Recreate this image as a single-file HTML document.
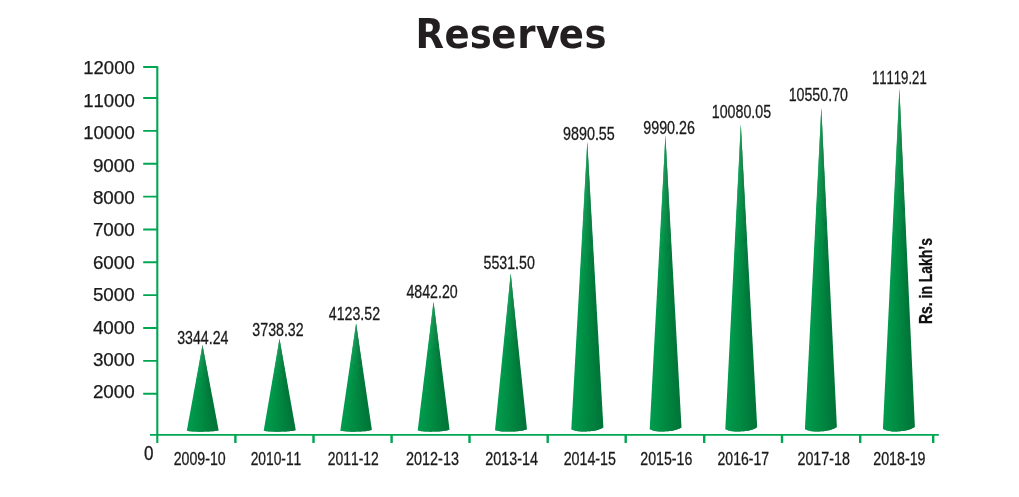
<!DOCTYPE html>
<html lang="en"><head><meta charset="utf-8"><title>Reserves</title>
<style>
html,body{margin:0;padding:0;background:#fff;}
body{width:1019px;height:497px;overflow:hidden;}
svg{display:block;}
text{font-family:"Liberation Sans",sans-serif;fill:#1a1a1a;font-kerning:none;}
.title{font-family:"DejaVu Sans","Liberation Sans",sans-serif;font-weight:bold;fill:#231f20;}
.ylab{font-size:17.9px;text-anchor:end;stroke:#1a1a1a;stroke-width:0.25px;}
.nar{font-size:19px;text-anchor:middle;stroke:#1a1a1a;stroke-width:0.3px;}
.xl{font-size:18.4px;text-anchor:middle;stroke:#1a1a1a;stroke-width:0.3px;}
.unit{font-size:18px;font-weight:bold;fill:#111;stroke:#111;stroke-width:0.3px;}
</style></head><body>
<svg width="1019" height="497" viewBox="0 0 1019 497">
<rect width="1019" height="497" fill="#fff"/>
<text class="title" transform="translate(415.45 48) scale(0.9150 1)" font-size="40.5" dx="0.00 0.60 0.00 -0.60 0.98 0.22 -1.09 0.71">Reserves</text>
<g fill="none" stroke="#00a651">
<path d="M157.3 66.3V442.9" stroke-width="2.1"/>
<path d="M150 434.85H938.8" stroke-width="1.6"/>
<path d="M143.2 67.05H157.3M143.2 98.00H157.3M143.2 130.86H157.3M143.2 163.72H157.3M143.2 196.58H157.3M143.2 229.44H157.3M143.2 262.30H157.3M143.2 295.16H157.3M143.2 328.02H157.3M143.2 360.88H157.3M143.2 393.74H157.3" stroke-width="1.9"/>
<path d="M235.4 434.5V442.9M313.5 434.5V442.9M391.6 434.5V442.9M469.5 434.5V442.9M547.7 434.5V442.9M625.7 434.5V442.9M704.2 434.5V442.9M782.0 434.5V442.9M860.2 434.5V442.9M933.2 434.5V442.9" stroke-width="2.4"/>
</g>
<text class="ylab" x="134.8" y="74.3" textLength="51.6" lengthAdjust="spacingAndGlyphs">12000</text>
<text class="ylab" x="134.8" y="106.6" textLength="51.6" lengthAdjust="spacingAndGlyphs">11000</text>
<text class="ylab" x="134.8" y="139.0" textLength="51.6" lengthAdjust="spacingAndGlyphs">10000</text>
<text class="ylab" x="134.8" y="171.9" textLength="41.9" lengthAdjust="spacingAndGlyphs">9000</text>
<text class="ylab" x="134.8" y="203.7" textLength="41.9" lengthAdjust="spacingAndGlyphs">8000</text>
<text class="ylab" x="134.8" y="236.0" textLength="41.9" lengthAdjust="spacingAndGlyphs">7000</text>
<text class="ylab" x="134.8" y="269.0" textLength="41.9" lengthAdjust="spacingAndGlyphs">6000</text>
<text class="ylab" x="134.8" y="301.1" textLength="41.9" lengthAdjust="spacingAndGlyphs">5000</text>
<text class="ylab" x="134.8" y="333.6" textLength="41.9" lengthAdjust="spacingAndGlyphs">4000</text>
<text class="ylab" x="134.8" y="365.8" textLength="41.9" lengthAdjust="spacingAndGlyphs">3000</text>
<text class="ylab" x="134.8" y="397.7" textLength="41.9" lengthAdjust="spacingAndGlyphs">2000</text>
<text class="xl" style="font-size:19.3px" x="148.7" y="459.6" textLength="9.5" lengthAdjust="spacingAndGlyphs">0</text>
<g>
<path d="M202.5 345.1L186.80 430.81 188.13 431.00 189.46 431.16Z" fill="#009c4e"/>
<path d="M202.5 345.1L188.13 431.00 189.46 431.16 190.79 431.30Z" fill="#009a4d"/>
<path d="M202.5 345.1L189.46 431.16 190.79 431.30 192.12 431.41Z" fill="#00994c"/>
<path d="M202.5 345.1L190.79 431.30 192.12 431.41 193.45 431.50Z" fill="#00974b"/>
<path d="M202.5 345.1L192.12 431.41 193.45 431.50 194.78 431.57Z" fill="#00954a"/>
<path d="M202.5 345.1L193.45 431.50 194.78 431.57 196.10 431.62Z" fill="#009449"/>
<path d="M202.5 345.1L194.78 431.57 196.10 431.62 197.43 431.65Z" fill="#009247"/>
<path d="M202.5 345.1L196.10 431.62 197.43 431.65 198.76 431.66Z" fill="#009146"/>
<path d="M202.5 345.1L197.43 431.65 198.76 431.66 200.09 431.66Z" fill="#008f45"/>
<path d="M202.5 345.1L198.76 431.66 200.09 431.66 201.42 431.65Z" fill="#008d44"/>
<path d="M202.5 345.1L200.09 431.66 201.42 431.65 202.75 431.64Z" fill="#008c43"/>
<path d="M202.5 345.1L201.42 431.65 202.75 431.64 204.08 431.62Z" fill="#008a42"/>
<path d="M202.5 345.1L202.75 431.64 204.08 431.62 205.41 431.59Z" fill="#008841"/>
<path d="M202.5 345.1L204.08 431.62 205.41 431.59 206.74 431.56Z" fill="#008640"/>
<path d="M202.5 345.1L205.41 431.59 206.74 431.56 208.07 431.51Z" fill="#008540"/>
<path d="M202.5 345.1L206.74 431.56 208.07 431.51 209.40 431.45Z" fill="#00833f"/>
<path d="M202.5 345.1L208.07 431.51 209.40 431.45 210.72 431.37Z" fill="#00813e"/>
<path d="M202.5 345.1L209.40 431.45 210.72 431.37 212.05 431.26Z" fill="#007f3d"/>
<path d="M202.5 345.1L210.72 431.37 212.05 431.26 213.38 431.14Z" fill="#007d3c"/>
<path d="M202.5 345.1L212.05 431.26 213.38 431.14 214.71 431.00Z" fill="#007b3b"/>
<path d="M202.5 345.1L213.38 431.14 214.71 431.00 216.04 430.82Z" fill="#007a3b"/>
<path d="M202.5 345.1L214.71 431.00 216.04 430.82 217.37 430.63Z" fill="#00783a"/>
<path d="M202.5 345.1L216.04 430.82 217.37 430.63 218.70 430.40Z" fill="#007639"/>
</g>
<text class="nar" x="202.8" y="344.1" textLength="51.3" lengthAdjust="spacingAndGlyphs">3344.24</text>
<g>
<path d="M279.5 338.7L263.70 430.76 265.04 430.96 266.38 431.14Z" fill="#009c4e"/>
<path d="M279.5 338.7L265.04 430.96 266.38 431.14 267.71 431.28Z" fill="#009a4d"/>
<path d="M279.5 338.7L266.38 431.14 267.71 431.28 269.05 431.40Z" fill="#00994c"/>
<path d="M279.5 338.7L267.71 431.28 269.05 431.40 270.39 431.49Z" fill="#00974b"/>
<path d="M279.5 338.7L269.05 431.40 270.39 431.49 271.73 431.56Z" fill="#00954a"/>
<path d="M279.5 338.7L270.39 431.49 271.73 431.56 273.06 431.61Z" fill="#009449"/>
<path d="M279.5 338.7L271.73 431.56 273.06 431.61 274.40 431.64Z" fill="#009247"/>
<path d="M279.5 338.7L273.06 431.61 274.40 431.64 275.74 431.66Z" fill="#009146"/>
<path d="M279.5 338.7L274.40 431.64 275.74 431.66 277.07 431.66Z" fill="#008f45"/>
<path d="M279.5 338.7L275.74 431.66 277.07 431.66 278.41 431.65Z" fill="#008d44"/>
<path d="M279.5 338.7L277.07 431.66 278.41 431.65 279.75 431.63Z" fill="#008c43"/>
<path d="M279.5 338.7L278.41 431.65 279.75 431.63 281.09 431.61Z" fill="#008a42"/>
<path d="M279.5 338.7L279.75 431.63 281.09 431.61 282.43 431.58Z" fill="#008841"/>
<path d="M279.5 338.7L281.09 431.61 282.43 431.58 283.76 431.54Z" fill="#008640"/>
<path d="M279.5 338.7L282.43 431.58 283.76 431.54 285.10 431.49Z" fill="#008540"/>
<path d="M279.5 338.7L283.76 431.54 285.10 431.49 286.44 431.42Z" fill="#00833f"/>
<path d="M279.5 338.7L285.10 431.49 286.44 431.42 287.77 431.34Z" fill="#00813e"/>
<path d="M279.5 338.7L286.44 431.42 287.77 431.34 289.11 431.23Z" fill="#007f3d"/>
<path d="M279.5 338.7L287.77 431.34 289.11 431.23 290.45 431.10Z" fill="#007d3c"/>
<path d="M279.5 338.7L289.11 431.23 290.45 431.10 291.79 430.94Z" fill="#007b3b"/>
<path d="M279.5 338.7L290.45 431.10 291.79 430.94 293.12 430.76Z" fill="#007a3b"/>
<path d="M279.5 338.7L291.79 430.94 293.12 430.76 294.46 430.55Z" fill="#00783a"/>
<path d="M279.5 338.7L293.12 430.76 294.46 430.55 295.80 430.31Z" fill="#007639"/>
</g>
<text class="nar" x="278.0" y="335.6" textLength="51.3" lengthAdjust="spacingAndGlyphs">3738.32</text>
<g>
<path d="M356.1 323.2L340.30 430.65 341.62 430.88 342.93 431.07Z" fill="#009c4e"/>
<path d="M356.1 323.2L341.62 430.88 342.93 431.07 344.25 431.23Z" fill="#009a4d"/>
<path d="M356.1 323.2L342.93 431.07 344.25 431.23 345.57 431.36Z" fill="#00994c"/>
<path d="M356.1 323.2L344.25 431.23 345.57 431.36 346.88 431.47Z" fill="#00974b"/>
<path d="M356.1 323.2L345.57 431.36 346.88 431.47 348.20 431.54Z" fill="#00954a"/>
<path d="M356.1 323.2L346.88 431.47 348.20 431.54 349.52 431.60Z" fill="#009449"/>
<path d="M356.1 323.2L348.20 431.54 349.52 431.60 350.83 431.63Z" fill="#009247"/>
<path d="M356.1 323.2L349.52 431.60 350.83 431.63 352.15 431.65Z" fill="#009146"/>
<path d="M356.1 323.2L350.83 431.63 352.15 431.65 353.47 431.64Z" fill="#008f45"/>
<path d="M356.1 323.2L352.15 431.65 353.47 431.64 354.78 431.63Z" fill="#008d44"/>
<path d="M356.1 323.2L353.47 431.64 354.78 431.63 356.10 431.61Z" fill="#008c43"/>
<path d="M356.1 323.2L354.78 431.63 356.10 431.61 357.42 431.58Z" fill="#008a42"/>
<path d="M356.1 323.2L356.10 431.61 357.42 431.58 358.73 431.55Z" fill="#008841"/>
<path d="M356.1 323.2L357.42 431.58 358.73 431.55 360.05 431.51Z" fill="#008640"/>
<path d="M356.1 323.2L358.73 431.55 360.05 431.51 361.37 431.45Z" fill="#008540"/>
<path d="M356.1 323.2L360.05 431.51 361.37 431.45 362.68 431.37Z" fill="#00833f"/>
<path d="M356.1 323.2L361.37 431.45 362.68 431.37 364.00 431.27Z" fill="#00813e"/>
<path d="M356.1 323.2L362.68 431.37 364.00 431.27 365.32 431.14Z" fill="#007f3d"/>
<path d="M356.1 323.2L364.00 431.27 365.32 431.14 366.63 430.99Z" fill="#007d3c"/>
<path d="M356.1 323.2L365.32 431.14 366.63 430.99 367.95 430.82Z" fill="#007b3b"/>
<path d="M356.1 323.2L366.63 430.99 367.95 430.82 369.27 430.61Z" fill="#007a3b"/>
<path d="M356.1 323.2L367.95 430.82 369.27 430.61 370.58 430.37Z" fill="#00783a"/>
<path d="M356.1 323.2L369.27 430.61 370.58 430.37 371.90 430.10Z" fill="#007639"/>
</g>
<text class="nar" x="354.4" y="319.5" textLength="51.3" lengthAdjust="spacingAndGlyphs">4123.52</text>
<g>
<path d="M433.5 301.7L417.70 430.51 419.02 430.77 420.35 430.99Z" fill="#009c4e"/>
<path d="M433.5 301.7L419.02 430.77 420.35 430.99 421.68 431.17Z" fill="#009a4d"/>
<path d="M433.5 301.7L420.35 430.99 421.68 431.17 423.00 431.32Z" fill="#00994c"/>
<path d="M433.5 301.7L421.68 431.17 423.00 431.32 424.32 431.43Z" fill="#00974b"/>
<path d="M433.5 301.7L423.00 431.32 424.32 431.43 425.65 431.52Z" fill="#00954a"/>
<path d="M433.5 301.7L424.32 431.43 425.65 431.52 426.97 431.58Z" fill="#009449"/>
<path d="M433.5 301.7L425.65 431.52 426.97 431.58 428.30 431.62Z" fill="#009247"/>
<path d="M433.5 301.7L426.97 431.58 428.30 431.62 429.62 431.63Z" fill="#009146"/>
<path d="M433.5 301.7L428.30 431.62 429.62 431.63 430.95 431.63Z" fill="#008f45"/>
<path d="M433.5 301.7L429.62 431.63 430.95 431.63 432.27 431.61Z" fill="#008d44"/>
<path d="M433.5 301.7L430.95 431.63 432.27 431.61 433.60 431.58Z" fill="#008c43"/>
<path d="M433.5 301.7L432.27 431.61 433.60 431.58 434.93 431.55Z" fill="#008a42"/>
<path d="M433.5 301.7L433.60 431.58 434.93 431.55 436.25 431.51Z" fill="#008841"/>
<path d="M433.5 301.7L434.93 431.55 436.25 431.51 437.57 431.46Z" fill="#008640"/>
<path d="M433.5 301.7L436.25 431.51 437.57 431.46 438.90 431.38Z" fill="#008540"/>
<path d="M433.5 301.7L437.57 431.46 438.90 431.38 440.23 431.29Z" fill="#00833f"/>
<path d="M433.5 301.7L438.90 431.38 440.23 431.29 441.55 431.17Z" fill="#00813e"/>
<path d="M433.5 301.7L440.23 431.29 441.55 431.17 442.88 431.03Z" fill="#007f3d"/>
<path d="M433.5 301.7L441.55 431.17 442.88 431.03 444.20 430.85Z" fill="#007d3c"/>
<path d="M433.5 301.7L442.88 431.03 444.20 430.85 445.52 430.64Z" fill="#007b3b"/>
<path d="M433.5 301.7L444.20 430.85 445.52 430.64 446.85 430.40Z" fill="#007a3b"/>
<path d="M433.5 301.7L445.52 430.64 446.85 430.40 448.18 430.12Z" fill="#00783a"/>
<path d="M433.5 301.7L446.85 430.40 448.18 430.12 449.50 429.80Z" fill="#007639"/>
</g>
<text class="nar" x="432.1" y="298.3" textLength="51.3" lengthAdjust="spacingAndGlyphs">4842.20</text>
<g>
<path d="M510.7 273.2L495.00 430.31 496.33 430.61 497.67 430.87Z" fill="#009c4e"/>
<path d="M510.7 273.2L496.33 430.61 497.67 430.87 499.00 431.08Z" fill="#009a4d"/>
<path d="M510.7 273.2L497.67 430.87 499.00 431.08 500.33 431.26Z" fill="#00994c"/>
<path d="M510.7 273.2L499.00 431.08 500.33 431.26 501.67 431.39Z" fill="#00974b"/>
<path d="M510.7 273.2L500.33 431.26 501.67 431.39 503.00 431.49Z" fill="#00954a"/>
<path d="M510.7 273.2L501.67 431.39 503.00 431.49 504.33 431.56Z" fill="#009449"/>
<path d="M510.7 273.2L503.00 431.49 504.33 431.56 505.67 431.60Z" fill="#009247"/>
<path d="M510.7 273.2L504.33 431.56 505.67 431.60 507.00 431.61Z" fill="#009146"/>
<path d="M510.7 273.2L505.67 431.60 507.00 431.61 508.33 431.60Z" fill="#008f45"/>
<path d="M510.7 273.2L507.00 431.61 508.33 431.60 509.67 431.58Z" fill="#008d44"/>
<path d="M510.7 273.2L508.33 431.60 509.67 431.58 511.00 431.54Z" fill="#008c43"/>
<path d="M510.7 273.2L509.67 431.58 511.00 431.54 512.33 431.50Z" fill="#008a42"/>
<path d="M510.7 273.2L511.00 431.54 512.33 431.50 513.67 431.45Z" fill="#008841"/>
<path d="M510.7 273.2L512.33 431.50 513.67 431.45 515.00 431.39Z" fill="#008640"/>
<path d="M510.7 273.2L513.67 431.45 515.00 431.39 516.33 431.30Z" fill="#008540"/>
<path d="M510.7 273.2L515.00 431.39 516.33 431.30 517.67 431.19Z" fill="#00833f"/>
<path d="M510.7 273.2L516.33 431.30 517.67 431.19 519.00 431.04Z" fill="#00813e"/>
<path d="M510.7 273.2L517.67 431.19 519.00 431.04 520.33 430.87Z" fill="#007f3d"/>
<path d="M510.7 273.2L519.00 431.04 520.33 430.87 521.67 430.66Z" fill="#007d3c"/>
<path d="M510.7 273.2L520.33 430.87 521.67 430.66 523.00 430.41Z" fill="#007b3b"/>
<path d="M510.7 273.2L521.67 430.66 523.00 430.41 524.33 430.12Z" fill="#007a3b"/>
<path d="M510.7 273.2L523.00 430.41 524.33 430.12 525.67 429.79Z" fill="#00783a"/>
<path d="M510.7 273.2L524.33 430.12 525.67 429.79 527.00 429.41Z" fill="#007639"/>
</g>
<text class="nar" x="509.2" y="268.7" textLength="51.3" lengthAdjust="spacingAndGlyphs">5531.50</text>
<g>
<path d="M587.3 141.7L571.30 429.40 572.64 429.91 573.97 430.33Z" fill="#009c4e"/>
<path d="M587.3 141.7L572.64 429.91 573.97 430.33 575.31 430.69Z" fill="#009a4d"/>
<path d="M587.3 141.7L573.97 430.33 575.31 430.69 576.65 430.97Z" fill="#00994c"/>
<path d="M587.3 141.7L575.31 430.69 576.65 430.97 577.99 431.19Z" fill="#00974b"/>
<path d="M587.3 141.7L576.65 430.97 577.99 431.19 579.32 431.35Z" fill="#00954a"/>
<path d="M587.3 141.7L577.99 431.19 579.32 431.35 580.66 431.45Z" fill="#009449"/>
<path d="M587.3 141.7L579.32 431.35 580.66 431.45 582.00 431.51Z" fill="#009247"/>
<path d="M587.3 141.7L580.66 431.45 582.00 431.51 583.34 431.52Z" fill="#009146"/>
<path d="M587.3 141.7L582.00 431.51 583.34 431.52 584.67 431.50Z" fill="#008f45"/>
<path d="M587.3 141.7L583.34 431.52 584.67 431.50 586.01 431.44Z" fill="#008d44"/>
<path d="M587.3 141.7L584.67 431.50 586.01 431.44 587.35 431.37Z" fill="#008c43"/>
<path d="M587.3 141.7L586.01 431.44 587.35 431.37 588.69 431.29Z" fill="#008a42"/>
<path d="M587.3 141.7L587.35 431.37 588.69 431.29 590.02 431.20Z" fill="#008841"/>
<path d="M587.3 141.7L588.69 431.29 590.02 431.20 591.36 431.07Z" fill="#008640"/>
<path d="M587.3 141.7L590.02 431.20 591.36 431.07 592.70 430.91Z" fill="#008540"/>
<path d="M587.3 141.7L591.36 431.07 592.70 430.91 594.04 430.71Z" fill="#00833f"/>
<path d="M587.3 141.7L592.70 430.91 594.04 430.71 595.38 430.45Z" fill="#00813e"/>
<path d="M587.3 141.7L594.04 430.71 595.38 430.45 596.71 430.15Z" fill="#007f3d"/>
<path d="M587.3 141.7L595.38 430.45 596.71 430.15 598.05 429.78Z" fill="#007d3c"/>
<path d="M587.3 141.7L596.71 430.15 598.05 429.78 599.39 429.35Z" fill="#007b3b"/>
<path d="M587.3 141.7L598.05 429.78 599.39 429.35 600.73 428.84Z" fill="#007a3b"/>
<path d="M587.3 141.7L599.39 429.35 600.73 428.84 602.06 428.27Z" fill="#00783a"/>
<path d="M587.3 141.7L600.73 428.84 602.06 428.27 603.40 427.61Z" fill="#007639"/>
</g>
<text class="nar" x="588.9" y="140.1" textLength="51.8" lengthAdjust="spacingAndGlyphs">9890.55</text>
<g>
<path d="M665.4 135.5L649.70 429.36 651.03 429.87 652.35 430.31Z" fill="#009c4e"/>
<path d="M665.4 135.5L651.03 429.87 652.35 430.31 653.68 430.67Z" fill="#009a4d"/>
<path d="M665.4 135.5L652.35 430.31 653.68 430.67 655.00 430.96Z" fill="#00994c"/>
<path d="M665.4 135.5L653.68 430.67 655.00 430.96 656.33 431.18Z" fill="#00974b"/>
<path d="M665.4 135.5L655.00 430.96 656.33 431.18 657.65 431.34Z" fill="#00954a"/>
<path d="M665.4 135.5L656.33 431.18 657.65 431.34 658.98 431.45Z" fill="#009449"/>
<path d="M665.4 135.5L657.65 431.34 658.98 431.45 660.30 431.50Z" fill="#009247"/>
<path d="M665.4 135.5L658.98 431.45 660.30 431.50 661.62 431.51Z" fill="#009146"/>
<path d="M665.4 135.5L660.30 431.50 661.62 431.51 662.95 431.49Z" fill="#008f45"/>
<path d="M665.4 135.5L661.62 431.51 662.95 431.49 664.27 431.44Z" fill="#008d44"/>
<path d="M665.4 135.5L662.95 431.49 664.27 431.44 665.60 431.37Z" fill="#008c43"/>
<path d="M665.4 135.5L664.27 431.44 665.60 431.37 666.93 431.28Z" fill="#008a42"/>
<path d="M665.4 135.5L665.60 431.37 666.93 431.28 668.25 431.19Z" fill="#008841"/>
<path d="M665.4 135.5L666.93 431.28 668.25 431.19 669.58 431.06Z" fill="#008640"/>
<path d="M665.4 135.5L668.25 431.19 669.58 431.06 670.90 430.89Z" fill="#008540"/>
<path d="M665.4 135.5L669.58 431.06 670.90 430.89 672.23 430.68Z" fill="#00833f"/>
<path d="M665.4 135.5L670.90 430.89 672.23 430.68 673.55 430.43Z" fill="#00813e"/>
<path d="M665.4 135.5L672.23 430.68 673.55 430.43 674.88 430.11Z" fill="#007f3d"/>
<path d="M665.4 135.5L673.55 430.43 674.88 430.11 676.20 429.74Z" fill="#007d3c"/>
<path d="M665.4 135.5L674.88 430.11 676.20 429.74 677.52 429.30Z" fill="#007b3b"/>
<path d="M665.4 135.5L676.20 429.74 677.52 429.30 678.85 428.78Z" fill="#007a3b"/>
<path d="M665.4 135.5L677.52 429.30 678.85 428.78 680.17 428.20Z" fill="#00783a"/>
<path d="M665.4 135.5L678.85 428.78 680.17 428.20 681.50 427.53Z" fill="#007639"/>
</g>
<text class="nar" x="669.1" y="133.9" textLength="51.8" lengthAdjust="spacingAndGlyphs">9990.26</text>
<g>
<path d="M740.8 124.3L725.30 429.28 726.63 429.81 727.96 430.26Z" fill="#009c4e"/>
<path d="M740.8 124.3L726.63 429.81 727.96 430.26 729.29 430.64Z" fill="#009a4d"/>
<path d="M740.8 124.3L727.96 430.26 729.29 430.64 730.62 430.93Z" fill="#00994c"/>
<path d="M740.8 124.3L729.29 430.64 730.62 430.93 731.95 431.16Z" fill="#00974b"/>
<path d="M740.8 124.3L730.62 430.93 731.95 431.16 733.27 431.33Z" fill="#00954a"/>
<path d="M740.8 124.3L731.95 431.16 733.27 431.33 734.60 431.44Z" fill="#009449"/>
<path d="M740.8 124.3L733.27 431.33 734.60 431.44 735.93 431.50Z" fill="#009247"/>
<path d="M740.8 124.3L734.60 431.44 735.93 431.50 737.26 431.51Z" fill="#009146"/>
<path d="M740.8 124.3L735.93 431.50 737.26 431.51 738.59 431.48Z" fill="#008f45"/>
<path d="M740.8 124.3L737.26 431.51 738.59 431.48 739.92 431.43Z" fill="#008d44"/>
<path d="M740.8 124.3L738.59 431.48 739.92 431.43 741.25 431.35Z" fill="#008c43"/>
<path d="M740.8 124.3L739.92 431.43 741.25 431.35 742.58 431.27Z" fill="#008a42"/>
<path d="M740.8 124.3L741.25 431.35 742.58 431.27 743.91 431.16Z" fill="#008841"/>
<path d="M740.8 124.3L742.58 431.27 743.91 431.16 745.24 431.03Z" fill="#008640"/>
<path d="M740.8 124.3L743.91 431.16 745.24 431.03 746.57 430.86Z" fill="#008540"/>
<path d="M740.8 124.3L745.24 431.03 746.57 430.86 747.90 430.64Z" fill="#00833f"/>
<path d="M740.8 124.3L746.57 430.86 747.90 430.64 749.23 430.38Z" fill="#00813e"/>
<path d="M740.8 124.3L747.90 430.64 749.23 430.38 750.55 430.05Z" fill="#007f3d"/>
<path d="M740.8 124.3L749.23 430.38 750.55 430.05 751.88 429.66Z" fill="#007d3c"/>
<path d="M740.8 124.3L750.55 430.05 751.88 429.66 753.21 429.20Z" fill="#007b3b"/>
<path d="M740.8 124.3L751.88 429.66 753.21 429.20 754.54 428.67Z" fill="#007a3b"/>
<path d="M740.8 124.3L753.21 429.20 754.54 428.67 755.87 428.07Z" fill="#00783a"/>
<path d="M740.8 124.3L754.54 428.67 755.87 428.07 757.20 427.37Z" fill="#007639"/>
</g>
<text class="nar" x="741.4" y="117.6" textLength="59.3" lengthAdjust="spacingAndGlyphs">10080.05</text>
<g>
<path d="M821.3 107.7L804.90 429.17 806.23 429.73 807.57 430.20Z" fill="#009c4e"/>
<path d="M821.3 107.7L806.23 429.73 807.57 430.20 808.90 430.59Z" fill="#009a4d"/>
<path d="M821.3 107.7L807.57 430.20 808.90 430.59 810.23 430.90Z" fill="#00994c"/>
<path d="M821.3 107.7L808.90 430.59 810.23 430.90 811.57 431.14Z" fill="#00974b"/>
<path d="M821.3 107.7L810.23 430.90 811.57 431.14 812.90 431.31Z" fill="#00954a"/>
<path d="M821.3 107.7L811.57 431.14 812.90 431.31 814.23 431.42Z" fill="#009449"/>
<path d="M821.3 107.7L812.90 431.31 814.23 431.42 815.57 431.48Z" fill="#009247"/>
<path d="M821.3 107.7L814.23 431.42 815.57 431.48 816.90 431.50Z" fill="#009146"/>
<path d="M821.3 107.7L815.57 431.48 816.90 431.50 818.23 431.47Z" fill="#008f45"/>
<path d="M821.3 107.7L816.90 431.50 818.23 431.47 819.57 431.41Z" fill="#008d44"/>
<path d="M821.3 107.7L818.23 431.47 819.57 431.41 820.90 431.33Z" fill="#008c43"/>
<path d="M821.3 107.7L819.57 431.41 820.90 431.33 822.23 431.24Z" fill="#008a42"/>
<path d="M821.3 107.7L820.90 431.33 822.23 431.24 823.57 431.13Z" fill="#008841"/>
<path d="M821.3 107.7L822.23 431.24 823.57 431.13 824.90 430.99Z" fill="#008640"/>
<path d="M821.3 107.7L823.57 431.13 824.90 430.99 826.23 430.81Z" fill="#008540"/>
<path d="M821.3 107.7L824.90 430.99 826.23 430.81 827.57 430.58Z" fill="#00833f"/>
<path d="M821.3 107.7L826.23 430.81 827.57 430.58 828.90 430.30Z" fill="#00813e"/>
<path d="M821.3 107.7L827.57 430.58 828.90 430.30 830.23 429.96Z" fill="#007f3d"/>
<path d="M821.3 107.7L828.90 430.30 830.23 429.96 831.57 429.55Z" fill="#007d3c"/>
<path d="M821.3 107.7L830.23 429.96 831.57 429.55 832.90 429.07Z" fill="#007b3b"/>
<path d="M821.3 107.7L831.57 429.55 832.90 429.07 834.23 428.51Z" fill="#007a3b"/>
<path d="M821.3 107.7L832.90 429.07 834.23 428.51 835.57 427.87Z" fill="#00783a"/>
<path d="M821.3 107.7L834.23 428.51 835.57 427.87 836.90 427.15Z" fill="#007639"/>
</g>
<text class="nar" x="818.3" y="101.3" textLength="59.3" lengthAdjust="spacingAndGlyphs">10550.70</text>
<g>
<path d="M899.4 88.5L882.90 429.03 884.23 429.62 885.57 430.12Z" fill="#009c4e"/>
<path d="M899.4 88.5L884.23 429.62 885.57 430.12 886.90 430.53Z" fill="#009a4d"/>
<path d="M899.4 88.5L885.57 430.12 886.90 430.53 888.23 430.86Z" fill="#00994c"/>
<path d="M899.4 88.5L886.90 430.53 888.23 430.86 889.57 431.11Z" fill="#00974b"/>
<path d="M899.4 88.5L888.23 430.86 889.57 431.11 890.90 431.29Z" fill="#00954a"/>
<path d="M899.4 88.5L889.57 431.11 890.90 431.29 892.23 431.41Z" fill="#009449"/>
<path d="M899.4 88.5L890.90 431.29 892.23 431.41 893.57 431.47Z" fill="#009247"/>
<path d="M899.4 88.5L892.23 431.41 893.57 431.47 894.90 431.48Z" fill="#009146"/>
<path d="M899.4 88.5L893.57 431.47 894.90 431.48 896.23 431.45Z" fill="#008f45"/>
<path d="M899.4 88.5L894.90 431.48 896.23 431.45 897.57 431.39Z" fill="#008d44"/>
<path d="M899.4 88.5L896.23 431.45 897.57 431.39 898.90 431.30Z" fill="#008c43"/>
<path d="M899.4 88.5L897.57 431.39 898.90 431.30 900.23 431.21Z" fill="#008a42"/>
<path d="M899.4 88.5L898.90 431.30 900.23 431.21 901.57 431.09Z" fill="#008841"/>
<path d="M899.4 88.5L900.23 431.21 901.57 431.09 902.90 430.94Z" fill="#008640"/>
<path d="M899.4 88.5L901.57 431.09 902.90 430.94 904.23 430.75Z" fill="#008540"/>
<path d="M899.4 88.5L902.90 430.94 904.23 430.75 905.57 430.51Z" fill="#00833f"/>
<path d="M899.4 88.5L904.23 430.75 905.57 430.51 906.90 430.21Z" fill="#00813e"/>
<path d="M899.4 88.5L905.57 430.51 906.90 430.21 908.23 429.85Z" fill="#007f3d"/>
<path d="M899.4 88.5L906.90 430.21 908.23 429.85 909.57 429.42Z" fill="#007d3c"/>
<path d="M899.4 88.5L908.23 429.85 909.57 429.42 910.90 428.91Z" fill="#007b3b"/>
<path d="M899.4 88.5L909.57 429.42 910.90 428.91 912.23 428.33Z" fill="#007a3b"/>
<path d="M899.4 88.5L910.90 428.91 912.23 428.33 913.57 427.65Z" fill="#00783a"/>
<path d="M899.4 88.5L912.23 428.33 913.57 427.65 914.90 426.88Z" fill="#007639"/>
</g>
<text class="nar" x="899.3" y="83.9" textLength="54.8" lengthAdjust="spacingAndGlyphs">11119.21</text>
<text class="xl" x="199.7" y="465.3" textLength="52.0" lengthAdjust="spacingAndGlyphs">2009-10</text>
<text class="xl" x="276.0" y="465.3" textLength="50.6" lengthAdjust="spacingAndGlyphs">2010-11</text>
<text class="xl" x="353.3" y="465.3" textLength="51.1" lengthAdjust="spacingAndGlyphs">2011-12</text>
<text class="xl" x="432.5" y="465.3" textLength="52.9" lengthAdjust="spacingAndGlyphs">2012-13</text>
<text class="xl" x="511.7" y="465.3" textLength="52.8" lengthAdjust="spacingAndGlyphs">2013-14</text>
<text class="xl" x="589.8" y="465.3" textLength="52.3" lengthAdjust="spacingAndGlyphs">2014-15</text>
<text class="xl" x="666.3" y="465.3" textLength="52.0" lengthAdjust="spacingAndGlyphs">2015-16</text>
<text class="xl" x="743.3" y="465.3" textLength="51.5" lengthAdjust="spacingAndGlyphs">2016-17</text>
<text class="xl" x="823.7" y="465.3" textLength="52.5" lengthAdjust="spacingAndGlyphs">2017-18</text>
<text class="xl" x="899.4" y="465.3" textLength="52.3" lengthAdjust="spacingAndGlyphs">2018-19</text>
<text class="unit" transform="translate(931.5 324.0) rotate(-90)" textLength="86.0" lengthAdjust="spacingAndGlyphs">Rs. in Lakh’s</text>
</svg>
</body></html>
